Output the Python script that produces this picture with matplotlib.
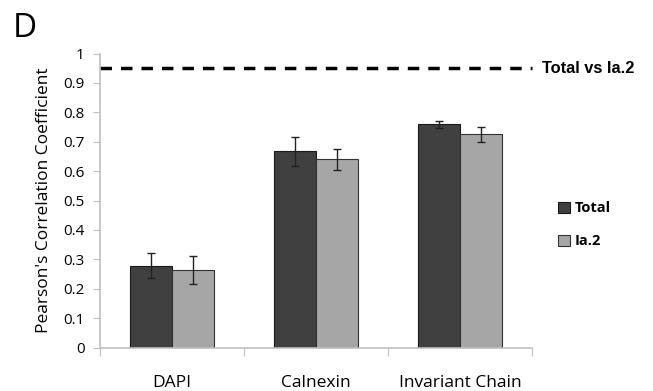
import matplotlib.pyplot as plt
import numpy as np

categories = ['DAPI', 'Calnexin', 'Invariant Chain']
total = [0.279, 0.667, 0.759]
total_err = [0.043, 0.05, 0.012]
ia2 = [0.265, 0.641, 0.725]
ia2_err = [0.048, 0.036, 0.026]
ref_line = 0.95
yticks = [0, 0.1, 0.2, 0.3, 0.4, 0.5, 0.6, 0.7, 0.8, 0.9, 1]

plt.rcParams['font.family'] = ['Open Sans', 'DejaVu Sans']

fig = plt.figure(figsize=(6.53, 3.91), dpi=100)
ax = fig.add_axes([0.153, 0.111, 0.662, 0.752])

x = np.arange(len(categories))
w = 0.29
ax.bar(x - w / 2, total, w, yerr=total_err, color='#404040', edgecolor='#1a1a1a',
       linewidth=0.8, capsize=3, error_kw=dict(elinewidth=1, capthick=1, ecolor='#222222'),
       label='Total')
ax.bar(x + w / 2, ia2, w, yerr=ia2_err, color='#a6a6a6', edgecolor='#333333',
       linewidth=0.8, capsize=3, error_kw=dict(elinewidth=1, capthick=1, ecolor='#222222'),
       label='Ia.2')

ax.axhline(ref_line, color='black', linestyle=(0, (3.3, 2.6)), linewidth=2.5, clip_on=False)
ax.text(2.57, ref_line, 'Total vs Ia.2', family='Liberation Sans', fontweight='bold',
        fontsize=11.8, va='center', ha='left')

ax.set_xlim(-0.5, 2.5)
ax.set_ylim(0, 1)
ax.set_yticks(yticks)
ax.set_yticklabels([f'{t:g}' for t in yticks], fontsize=11)
ax.set_xticks([-0.5, 0.5, 1.5, 2.5])
ax.set_xticklabels([])
ax.set_xticks(x, minor=True)
ax.set_xticklabels(categories, minor=True, fontsize=12.5)
ax.tick_params(axis='x', which='minor', length=0, pad=20)
ax.tick_params(axis='x', which='major', length=6, color='#bfbfbf', direction='out')
ax.tick_params(axis='y', length=5, color='#bfbfbf', direction='out', pad=6)

for s in ['top', 'right']:
    ax.spines[s].set_visible(False)
for s in ['left', 'bottom']:
    ax.spines[s].set_color('#bfbfbf')
    ax.spines[s].set_linewidth(1.2)

ax.set_ylabel("Pearson's Correlation Coefficient", fontsize=12.5, labelpad=8)

leg = ax.legend(loc='center left', bbox_to_anchor=(1.03, 0.418), frameon=False,
                handlelength=0.8, handleheight=0.8, handletextpad=0.3, labelspacing=1.3,
                prop={'weight': 'bold', 'size': 10.5})

fig.text(0.02, 0.928, 'D', fontsize=24, va='center', ha='left')

plt.savefig('out.png', dpi=100)
